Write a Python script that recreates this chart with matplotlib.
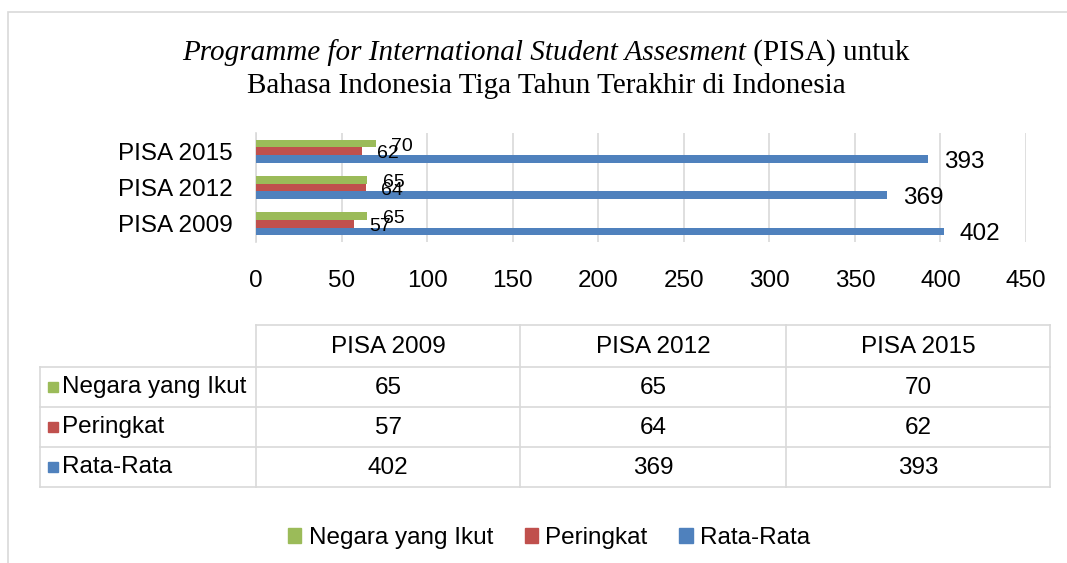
import matplotlib
matplotlib.use("Agg")
import matplotlib.pyplot as plt
from matplotlib.patches import Rectangle, Patch
import numpy as np

plt.rcParams['font.family'] = ['Liberation Sans', 'DejaVu Sans']

# data
years = ["PISA 2009", "PISA 2012", "PISA 2015"]
series = ["Negara yang Ikut", "Peringkat", "Rata-Rata"]
negara = [65, 65, 70]
peringkat = [57, 64, 62]
rata = [402, 369, 393]
colors = ["#9BBB59", "#C0504D", "#4F81BD"]
xticks = [0, 50, 100, 150, 200, 250, 300, 350, 400, 450]

W, H = 1067, 563
FS = 17.5
fig = plt.figure(figsize=(W / 100, H / 100), dpi=100)

# outer chart frame (light gray)
fig.patches.append(Rectangle((8 / W, -0.1), 1.2, 1.1 - 12 / H, transform=fig.transFigure,
                             fill=False, edgecolor="#d9d9d9", lw=1.2))

# title: italic part + roman part on first line
canvas = fig.canvas
t1 = fig.text(0, 1 - 53 / H, "Programme for International Student Assesment",
              family="Liberation Serif", style="italic", fontsize=21, va="center")
t2 = fig.text(0, 1 - 53 / H, " (PISA) untuk", family="Liberation Serif",
              fontsize=21, va="center")
canvas.draw()
r = canvas.get_renderer()
w1 = t1.get_window_extent(r).width
w2 = t2.get_window_extent(r).width
cx = 546
x0 = cx - (w1 + w2) / 2
t1.set_x(x0 / W)
t2.set_x((x0 + w1) / W)
fig.text(cx / W, 1 - 86 / H, "Bahasa Indonesia Tiga Tahun Terakhir di Indonesia",
         family="Liberation Serif", fontsize=21, ha="center", va="center")

# bar chart
ax = fig.add_axes([256 / W, 1 - 242 / H, 770 / W, 109 / H])
y = np.arange(len(years))
h = 0.21
vals = [negara, peringkat, rata]
offs = [h, 0, -h]
for v, off, c in zip(vals, offs, colors):
    bars = ax.barh(y + off, v, height=h, color=c, zorder=3)
    big = v is rata
    for b, val in zip(bars, v):
        ax.annotate(str(val), (b.get_width(), b.get_y() + b.get_height() / 2),
                    xytext=(11, -2), textcoords="offset points", va="center",
                    ha="left", fontsize=FS if big else 14, zorder=4)

ax.set_xlim(0, 450)
ax.set_ylim(-0.5, len(years) - 0.5)
ax.set_xticks(xticks)
ax.set_yticks(y)
ax.set_yticklabels(years)
ax.tick_params(axis="x", length=0, pad=20, labelsize=FS)
ax.tick_params(axis="y", length=0, pad=17, labelsize=FS)
ax.grid(axis="x", color="#d9d9d9", lw=1.2, zorder=0)
for s in ["top", "right", "bottom"]:
    ax.spines[s].set_visible(False)
ax.spines["left"].set_color("#d9d9d9")
ax.spines["left"].set_linewidth(1.2)

# data table below the chart
tab = fig.add_axes([0, 0, 1, 1])
tab.set_xlim(0, W)
tab.set_ylim(H, 0)
tab.axis("off")
col_edges = [40, 256, 520, 786, 1050]
row_edges = [325, 367, 407, 447, 487]
lc = "#d9d9d9"
tab.plot([col_edges[1], col_edges[-1]], [row_edges[0]] * 2, color=lc, lw=1.2)
for ye in row_edges[1:]:
    tab.plot([col_edges[0], col_edges[-1]], [ye, ye], color=lc, lw=1.2)
tab.plot([col_edges[0]] * 2, [row_edges[1], row_edges[-1]], color=lc, lw=1.2)
for xe in col_edges[1:]:
    tab.plot([xe, xe], [row_edges[0], row_edges[-1]], color=lc, lw=1.2)
for j, yr in enumerate(years):
    xc = (col_edges[j + 1] + col_edges[j + 2]) / 2
    tab.text(xc, (row_edges[0] + row_edges[1]) / 2 + 1, yr, ha="center", va="center", fontsize=FS)
for i, (name, v, c) in enumerate(zip(series, vals, colors)):
    yc = (row_edges[i + 1] + row_edges[i + 2]) / 2
    tab.add_patch(Rectangle((48, yc - 5), 10, 10, color=c))
    tab.text(62, yc, name, ha="left", va="center", fontsize=FS)
    for j, val in enumerate(v):
        xc = (col_edges[j + 1] + col_edges[j + 2]) / 2
        tab.text(xc, yc + 1, str(val), ha="center", va="center", fontsize=FS)

# legend
handles = [Patch(color=c, label=s) for s, c in zip(series, colors)]
fig.legend(handles=handles, loc="center", bbox_to_anchor=(549 / W, 1 - 538 / H), ncol=3,
           frameon=False, fontsize=FS, handlelength=0.55, handleheight=0.55,
           handletextpad=0.3, columnspacing=1.3)

fig.savefig("out.png", dpi=100)
